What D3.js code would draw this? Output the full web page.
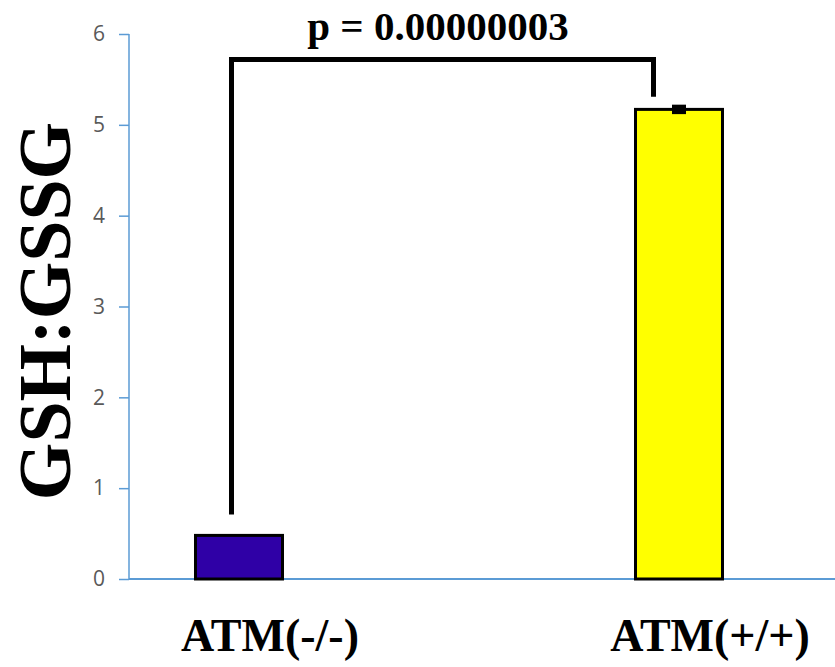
<!DOCTYPE html>
<html>
<head>
<meta charset="utf-8">
<script src="https://cdn.jsdelivr.net/npm/d3@7"></script>
<style>
  body { margin: 0; background: #fff; }
</style>
</head>
<body>
<script>
var w = 835;
var h = 667;

// data
var groups = ["ATM(-/-)", "ATM(+/+)"];
var ratio = [0.48, 5.17];
var errors = [0, 0.03];
var barColors = ["#2F00A6", "#FFFF00"];
var yTicks = [0, 1, 2, 3, 4, 5, 6];
var pLabel = "p = 0.00000003";
var bracketTop = 5.72;
var bracketEnds = [0.71, 5.31];

var svg = d3.select("body").append("svg")
  .attr("width", w)
  .attr("height", h);

var y = d3.scaleLinear().domain([0, 6]).range([579, 34]);
var x = d3.scalePoint().domain(groups).range([239, 679]);
var barW = 87;

// y axis
var axisColor = "#5B9BD5";
var yAxis = svg.append("g")
  .attr("transform", "translate(129,0)")
  .call(d3.axisLeft(y).tickValues(yTicks).tickFormat(d3.format("d"))
    .tickSize(10).tickPadding(14));
yAxis.select(".domain").attr("stroke", axisColor).attr("stroke-width", 1.5)
  .attr("d", "M0," + y(6) + "V" + y(0));
yAxis.selectAll(".tick line").attr("stroke", axisColor).attr("stroke-width", 1.5);
yAxis.selectAll(".tick text")
  .attr("fill", "#595959")
  .style("font-family", "'Open Sans', sans-serif")
  .style("font-size", "21px");

// x axis line
svg.append("line")
  .attr("x1", 129).attr("x2", w)
  .attr("y1", y(0)).attr("y2", y(0))
  .attr("stroke", axisColor).attr("stroke-width", 2);

// bars
svg.selectAll(".bar")
  .data(groups)
  .enter().append("rect")
  .attr("class", "bar")
  .attr("x", function(d) { return x(d) - barW / 2; })
  .attr("width", barW)
  .attr("y", function(d, i) { return y(ratio[i]); })
  .attr("height", function(d, i) { return y(0) - y(ratio[i]); })
  .attr("fill", function(d, i) { return barColors[i]; })
  .attr("stroke", "#000")
  .attr("stroke-width", 3);

// error bars
groups.forEach(function(g, i) {
  if (errors[i] <= 0) return;
  var cx = x(g);
  svg.append("rect")
    .attr("x", cx - 7).attr("width", 14)
    .attr("y", y(ratio[i] + errors[i]) - 2)
    .attr("height", y(ratio[i] - errors[i]) - y(ratio[i] + errors[i]) + 4)
    .attr("fill", "#000");
});

// significance bracket
var bx1 = x(groups[0]) - 7.5;
var bx2 = x(groups[1]) - 25.5;
svg.append("path")
  .attr("d", "M" + bx1 + "," + y(bracketEnds[0]) +
    "V" + y(bracketTop) + "H" + bx2 + "V" + y(bracketEnds[1]))
  .attr("fill", "none")
  .attr("stroke", "#000")
  .attr("stroke-width", 5);

svg.append("text")
  .attr("x", 438).attr("y", 40)
  .attr("text-anchor", "middle")
  .style("font-family", "'Liberation Serif', 'Times New Roman', serif")
  .style("font-weight", "bold")
  .style("font-size", "41px")
  .text(pLabel);

// category labels
svg.selectAll(".xlab")
  .data(groups)
  .enter().append("text")
  .attr("class", "xlab")
  .attr("x", function(d) { return x(d) + 31; })
  .attr("y", 651)
  .attr("text-anchor", "middle")
  .style("font-family", "'Liberation Serif', 'Times New Roman', serif")
  .style("font-weight", "bold")
  .style("font-size", "46px")
  .text(function(d) { return d; });

// y label
svg.append("text")
  .attr("transform", "translate(70,311) rotate(-90)")
  .attr("text-anchor", "middle")
  .style("font-family", "'Liberation Serif', 'Times New Roman', serif")
  .style("font-weight", "bold")
  .style("font-size", "74px")
  .text("GSH:GSSG");
</script>
</body>
</html>
